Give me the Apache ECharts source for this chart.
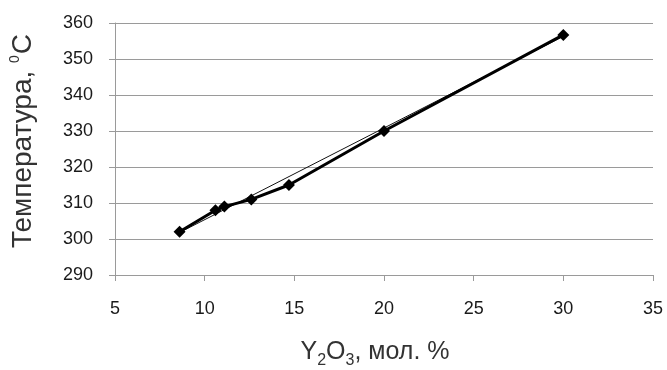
<!DOCTYPE html>
<html>
<head>
    <meta charset="utf-8">
    <title>Температура</title>
    <style>
        body { margin: 0; background: #fff; }
        #chart { width: 667px; height: 370px; }
    </style>
</head>
<body>
    <div id="chart"></div>
    <script src="https://cdn.jsdelivr.net/npm/echarts@6/dist/echarts.min.js"></script>
    <script>
        // данные
        var molY2O3 = [8.6, 10.6, 11.1, 12.6, 14.7, 20, 30];
        var temperature = [302, 308, 309, 311, 315, 330, 356.7];
        // линия тренда (концы)
        var trendX = [8.6, 30];
        var trendY = [301.8, 356.3];

        var chart = echarts.init(document.getElementById('chart'));
        var font = '"Liberation Sans", Arial, sans-serif';

        var option = {
            animation: false,
            grid: { left: 115, right: 14, top: 23, bottom: 95 },
            xAxis: {
                type: 'value', min: 5, max: 35, interval: 5,
                axisLine: { show: true, lineStyle: { color: '#9a9a9a' } },
                axisTick: { show: true, length: 6, lineStyle: { color: '#9a9a9a' } },
                axisLabel: { color: '#1a1a1a', fontSize: 18, fontFamily: font, margin: 25 },
                splitLine: { show: false }
            },
            yAxis: {
                type: 'value', min: 290, max: 360, interval: 10,
                axisLine: { show: true, lineStyle: { color: '#9a9a9a' } },
                axisTick: { show: true, length: 6, lineStyle: { color: '#9a9a9a' } },
                axisLabel: { color: '#1a1a1a', fontSize: 18, fontFamily: font, margin: 22 },
                splitLine: { show: true, lineStyle: { color: '#9a9a9a', width: 1 } }
            },
            graphic: [
                {
                    type: 'text', x: 375, y: 352,
                    style: {
                        text: 'Y{s|2}O{s|3}, мол. %',
                        font: '25px ' + font, fill: '#333',
                        align: 'center', verticalAlign: 'middle',
                        rich: { s: { fontSize: 16, fontFamily: font, fill: '#333', padding: [18, 0, 0, 0] } }
                    }
                },
                {
                    type: 'text', x: 23, y: 141, rotation: Math.PI / 2,
                    style: {
                        text: 'Температура, {s|0}С',
                        font: '28px ' + font, fill: '#333',
                        align: 'center', verticalAlign: 'middle',
                        rich: { s: { fontSize: 14, fontFamily: font, fill: '#333', padding: [0, 1, 16, 0] } }
                    }
                }
            ],
            series: [
                {
                    type: 'line',
                    data: trendX.map(function (x, i) { return [x, trendY[i]]; }),
                    symbol: 'none',
                    lineStyle: { color: '#111', width: 1 },
                    z: 1
                },
                {
                    type: 'line',
                    data: molY2O3.map(function (x, i) { return [x, temperature[i]]; }),
                    symbol: 'diamond', symbolSize: 12,
                    itemStyle: { color: '#000' },
                    lineStyle: { color: '#000', width: 3 },
                    z: 2
                }
            ]
        };
        chart.setOption(option);
    </script>
</body>
</html>
